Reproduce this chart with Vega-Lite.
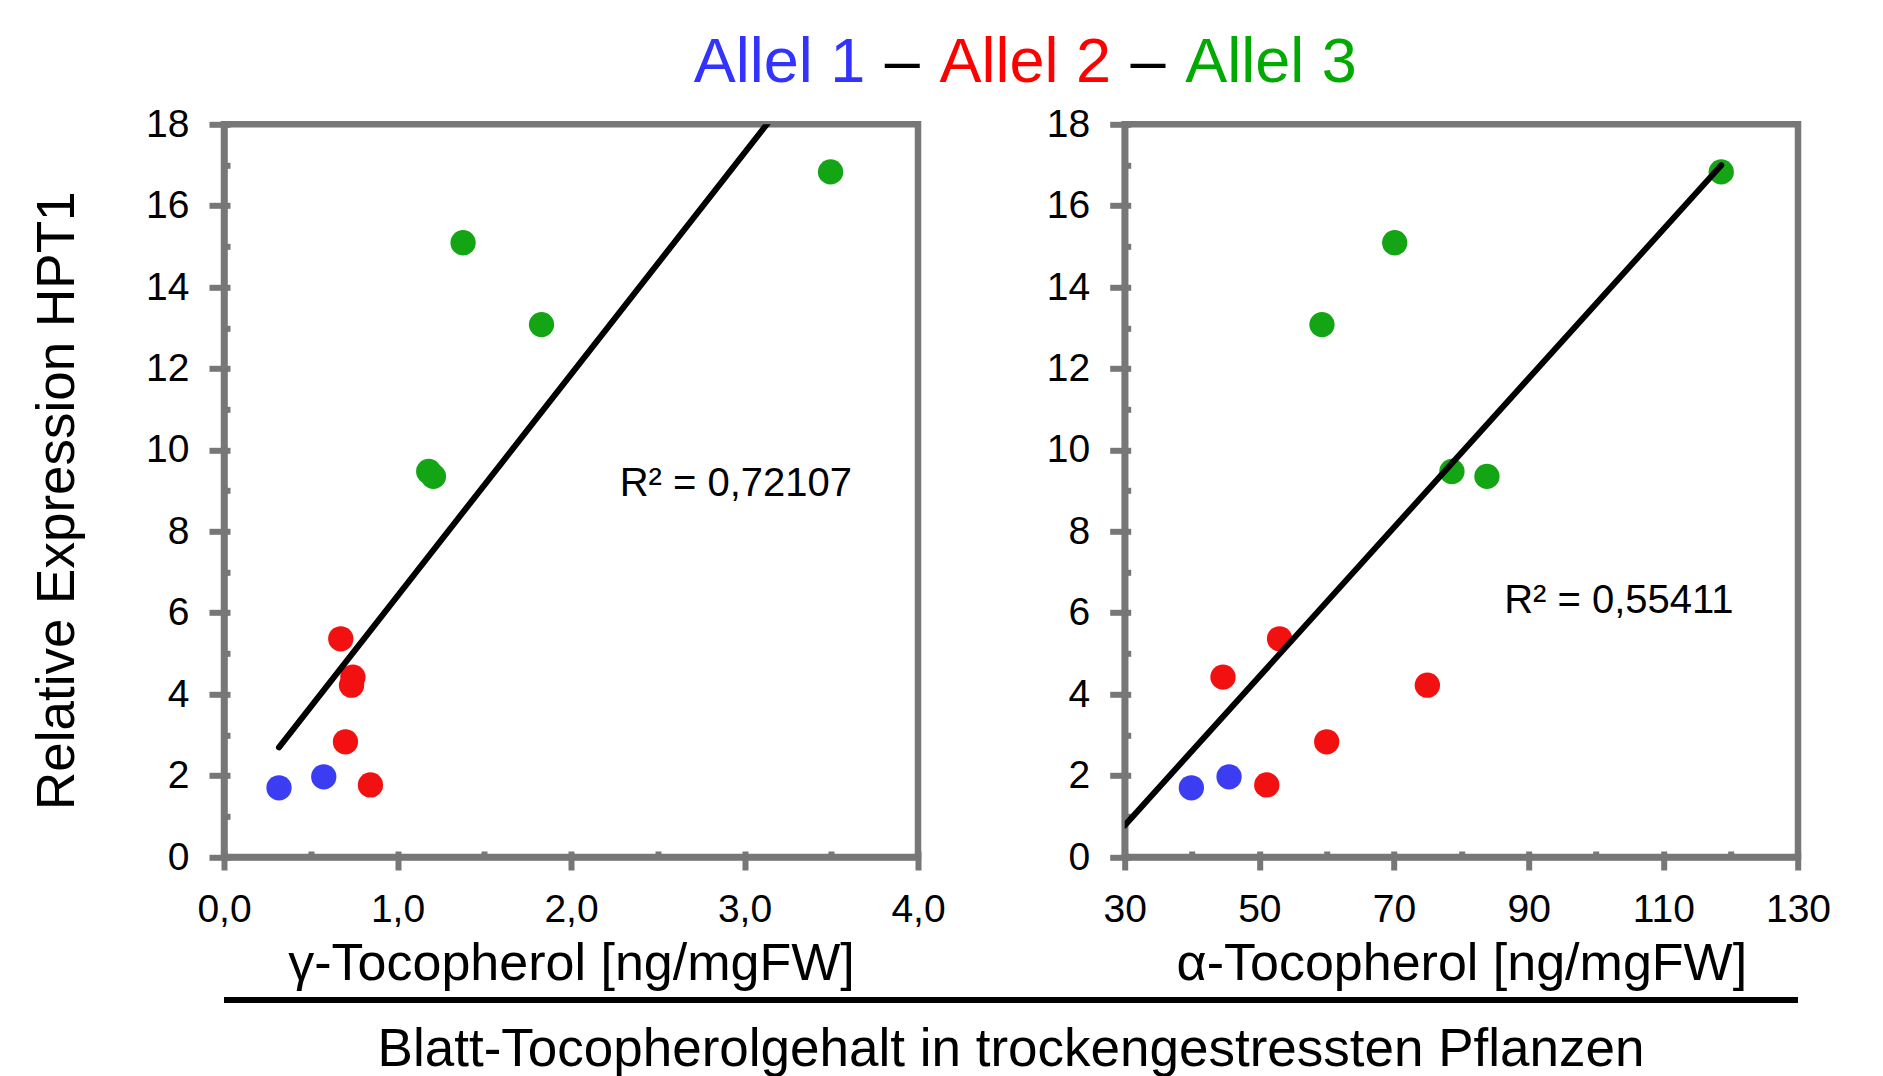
{
  "$schema": "https://vega.github.io/schema/vega-lite/v6.json",
  "padding": {"left": 27, "top": 0, "right": 5, "bottom": 0},
  "background": "white",
  "config": {
    "font": "Liberation Sans",
    "view": {"stroke": "#777777", "strokeWidth": 6.5},
    "axis": {
      "grid": false,
      "labelColor": "black",
      "titleColor": "black",
      "labelFont": "Liberation Sans",
      "titleFont": "Liberation Sans",
      "titleFontWeight": "normal",
      "domainColor": "#777777",
      "tickColor": "#777777",
      "domainWidth": 6.5,
      "tickWidth": 6,
      "labelFontSize": 39,
      "titleFontSize": 52,
      "labelFlush": false,
      "labelOverlap": false
    }
  },
  "datasets": {
    "samples": [
      {"allele": "Allel 1", "gamma": 0.317, "alpha": 39.9, "expr": 1.70},
      {"allele": "Allel 1", "gamma": 0.575, "alpha": 45.5, "expr": 1.97},
      {"allele": "Allel 2", "gamma": 0.673, "alpha": 53.0, "expr": 5.36},
      {"allele": "Allel 2", "gamma": 0.743, "alpha": 44.6, "expr": 4.42},
      {"allele": "Allel 2", "gamma": 0.735, "alpha": 74.95, "expr": 4.22},
      {"allele": "Allel 2", "gamma": 0.700, "alpha": 60.0, "expr": 2.83},
      {"allele": "Allel 2", "gamma": 0.844, "alpha": 51.1, "expr": 1.77},
      {"allele": "Allel 3", "gamma": 1.180, "alpha": 78.6, "expr": 9.47},
      {"allele": "Allel 3", "gamma": 1.207, "alpha": 83.8, "expr": 9.35},
      {"allele": "Allel 3", "gamma": 1.378, "alpha": 70.1, "expr": 15.09},
      {"allele": "Allel 3", "gamma": 1.830, "alpha": 59.3, "expr": 13.08},
      {"allele": "Allel 3", "gamma": 3.496, "alpha": 118.6, "expr": 16.83}
    ]
  },
  "bounds": "flush",
  "spacing": 24.3,
  "resolve": {"scale": {"color": "independent"}},
  "vconcat": [
    {
      "width": 1111,
      "height": 100,
      "view": {"stroke": null},
      "data": {"values": [
        {"slot": "1", "label": "Allel 1", "allele": "Allel 1"},
        {"slot": "2", "label": "–", "allele": "–"},
        {"slot": "3", "label": "Allel 2", "allele": "Allel 2"},
        {"slot": "4", "label": "–", "allele": "–"},
        {"slot": "5", "label": "Allel 3", "allele": "Allel 3"}
      ]},
      "mark": {"type": "text", "fontSize": 63, "baseline": "alphabetic", "align": "center", "dy": 32},
      "encoding": {
        "x": {
          "field": "slot", "type": "ordinal",
          "scale": {"type": "point", "padding": 0.521, "domain": ["_a", "_b", "_c", "_d", "1", "2", "3", "4", "5"]},
          "axis": null
        },
        "text": {"field": "label"},
        "color": {
          "field": "allele", "type": "nominal",
          "scale": {"domain": ["Allel 1", "Allel 2", "Allel 3", "–"], "range": ["#3333ff", "#ff0000", "#00aa00", "#000000"]},
          "legend": null
        }
      }
    },
    {
      "bounds": "flush",
      "spacing": 875.7,
      "resolve": {"scale": {"color": "independent"}},
      "vconcat": [
        {
          "bounds": "flush",
          "spacing": 206.7,
          "hconcat": [
            {
              "width": 694,
              "height": 732.7,
              "data": {"name": "samples"},
              "resolve": {"axis": {"x": "independent", "y": "independent"}},
              "layer": [
                {
                  "mark": {"type": "circle", "size": 640, "opacity": 1},
                  "encoding": {
                    "x": {
                      "field": "gamma", "type": "quantitative",
                      "scale": {"domain": [0, 4], "nice": false, "zero": false},
                      "axis": {
                        "orient": "bottom", "values": [0, 1, 2, 3, 4], "tickSize": 13, "labelPadding": 20,
                        "labelExpr": "replace(format(datum.value, '.1f'), '.', ',')",
                        "title": "γ-Tocopherol [ng/mgFW]", "titleBaseline": "alphabetic", "titleY": 122
                      }
                    },
                    "y": {
                      "field": "expr", "type": "quantitative",
                      "scale": {"domain": [0, 18], "nice": false},
                      "axis": {
                        "orient": "left", "values": [0, 2, 4, 6, 8, 10, 12, 14, 16, 18], "tickSize": 15, "labelPadding": 20,
                        "title": "Relative Expression HPT1", "titleFontSize": 53, "titleX": -151, "titleY": 376,
                        "titleBaseline": "alphabetic", "titleAngle": -90, "titleAlign": "center"
                      }
                    },
                    "color": {
                      "field": "allele", "type": "nominal",
                      "scale": {"domain": ["Allel 1", "Allel 2", "Allel 3"], "range": ["#3c3cf2", "#f21010", "#14a514"]},
                      "legend": null
                    }
                  }
                },
                {
                  "transform": [{"regression": "expr", "on": "gamma"}],
                  "mark": {"type": "line", "color": "black", "strokeWidth": 6, "strokeCap": "round", "clip": true},
                  "encoding": {
                    "x": {
                      "field": "gamma", "type": "quantitative",
                      "axis": {"orient": "bottom", "values": [0, 0.5, 1, 1.5, 2, 2.5, 3, 3.5, 4], "tickSize": -6, "domain": false, "labels": false, "title": null}
                    },
                    "y": {
                      "field": "expr", "type": "quantitative",
                      "axis": {"orient": "left", "values": [0, 1, 2, 3, 4, 5, 6, 7, 8, 9, 10, 11, 12, 13, 14, 15, 16, 17, 18], "tickSize": -6, "domain": false, "labels": false, "title": null}
                    }
                  }
                },
                {
                  "data": {"values": [{"gpos": 2.95, "epos": 8.87, "label": "R² = 0,72107"}]},
                  "mark": {"type": "text", "fontSize": 40, "align": "center", "baseline": "alphabetic", "color": "black"},
                  "encoding": {
                    "x": {"field": "gpos", "type": "quantitative", "axis": null},
                    "y": {"field": "epos", "type": "quantitative", "axis": null},
                    "text": {"field": "label"}
                  }
                }
              ]
            },
            {
              "width": 673.3,
              "height": 732.7,
              "data": {"name": "samples"},
              "resolve": {"axis": {"x": "independent", "y": "independent"}},
              "layer": [
                {
                  "mark": {"type": "circle", "size": 640, "opacity": 1},
                  "encoding": {
                    "x": {
                      "field": "alpha", "type": "quantitative",
                      "scale": {"domain": [30, 130], "nice": false, "zero": false},
                      "axis": {
                        "orient": "bottom", "values": [30, 50, 70, 90, 110, 130], "tickSize": 13, "labelPadding": 20, "format": "d",
                        "title": "α-Tocopherol [ng/mgFW]", "titleBaseline": "alphabetic", "titleY": 122
                      }
                    },
                    "y": {
                      "field": "expr", "type": "quantitative",
                      "scale": {"domain": [0, 18], "nice": false},
                      "axis": {"orient": "left", "values": [0, 2, 4, 6, 8, 10, 12, 14, 16, 18], "tickSize": 15, "labelPadding": 20, "title": null}
                    },
                    "color": {
                      "field": "allele", "type": "nominal",
                      "scale": {"domain": ["Allel 1", "Allel 2", "Allel 3"], "range": ["#3c3cf2", "#f21010", "#14a514"]},
                      "legend": null
                    }
                  }
                },
                {
                  "transform": [{"regression": "expr", "on": "alpha", "extent": [30, 118.6]}],
                  "mark": {"type": "line", "color": "black", "strokeWidth": 6, "strokeCap": "round", "clip": true},
                  "encoding": {
                    "x": {
                      "field": "alpha", "type": "quantitative",
                      "axis": {"orient": "bottom", "values": [30, 40, 50, 60, 70, 80, 90, 100, 110, 120, 130], "tickSize": -6, "domain": false, "labels": false, "title": null}
                    },
                    "y": {
                      "field": "expr", "type": "quantitative",
                      "axis": {"orient": "left", "values": [0, 1, 2, 3, 4, 5, 6, 7, 8, 9, 10, 11, 12, 13, 14, 15, 16, 17, 18], "tickSize": -6, "domain": false, "labels": false, "title": null}
                    }
                  }
                },
                {
                  "data": {"values": [{"apos": 103.4, "epos": 6.0, "label": "R² = 0,55411"}]},
                  "mark": {"type": "text", "fontSize": 40, "align": "center", "baseline": "alphabetic", "color": "black"},
                  "encoding": {
                    "x": {"field": "apos", "type": "quantitative", "axis": null},
                    "y": {"field": "epos", "type": "quantitative", "axis": null},
                    "text": {"field": "label"}
                  }
                }
              ]
            }
          ]
        },
        {
          "width": 1574,
          "height": 66,
          "view": {"stroke": null},
          "data": {"values": [{"caption": "Blatt-Tocopherolgehalt in trockengestressten Pflanzen"}]},
          "layer": [
            {
              "mark": {"type": "rule", "color": "black", "strokeWidth": 6},
              "encoding": {"y": {"datum": 1, "type": "quantitative", "scale": {"domain": [0, 1]}, "axis": null}}
            },
            {
              "mark": {"type": "text", "fontSize": 53, "baseline": "alphabetic", "align": "center", "color": "black"},
              "encoding": {
                "text": {"field": "caption"},
                "y": {"datum": 0, "type": "quantitative", "axis": null}
              }
            }
          ]
        }
      ]
    }
  ]
}
